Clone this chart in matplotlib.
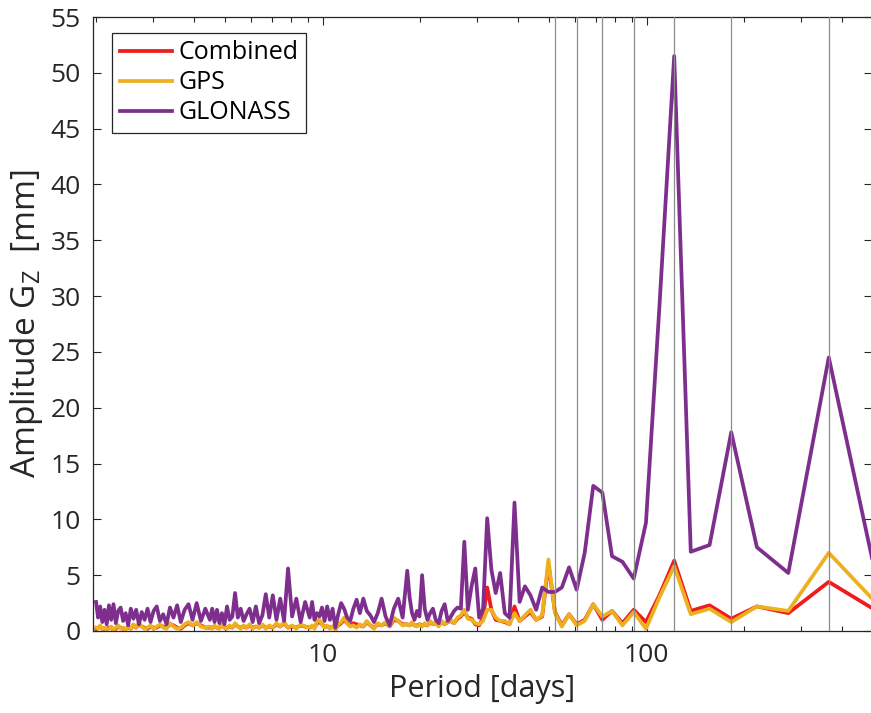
import matplotlib.pyplot as plt
import numpy as np
from matplotlib.ticker import LogLocator, NullFormatter

plt.rcParams['font.family'] = ['Open Sans', 'DejaVu Sans']
plt.rcParams['mathtext.fontset'] = 'custom'
plt.rcParams['mathtext.rm'] = 'Open Sans'
plt.rcParams['mathtext.it'] = 'Open Sans:italic'

# spectrum of a 3-year series: period = span / k
span_days = 1095.75
k = np.r_[548:250:-8, 244:120:-4, 120:60:-2, 60:1:-1]
period = span_days / k

# amplitudes [mm], ordered by increasing period
glonass = [
    2.6, 1.2, 2.2, 0.8, 1.9, 0.6, 2.3, 1.0, 2.4, 0.7, 1.8, 2.1, 0.9, 1.6, 0.5, 2.0, 1.1, 1.9, 0.6, 1.7,
    1.0, 2.0, 0.8, 1.8, 2.2, 0.9, 1.5, 0.6, 2.1, 1.2, 2.3, 0.8, 1.9, 2.4, 1.0, 2.5, 0.9, 2.0,
    1.0, 2.0, 0.8, 1.9, 0.7, 1.6, 0.6, 2.2, 1.0, 1.3, 3.4, 1.2, 2.0, 0.9, 1.5, 2.0, 0.8, 2.2, 0.7, 1.4,
    3.3, 1.2, 3.2, 1.0, 2.9, 0.9, 5.6, 1.3, 2.9, 0.8, 2.6,
    1.2, 2.6, 1.0, 1.6, 1.3, 2.1, 0.9, 2.2, 1.0, 2.0, 0.3, 1.5, 2.5, 2.0, 1.2, 0.9, 2.0, 2.8, 1.6, 2.9,
    1.8, 1.4, 0.8, 1.6, 2.9, 1.3, 0.5, 2.0, 2.9, 1.2,
    5.4, 3.0, 1.6, 1.0, 1.8, 1.3, 5.0, 2.0, 1.0, 1.6, 2.0, 1.0, 0.7, 1.8, 2.4, 0.9, 1.3, 1.8, 2.1, 2.0,
    8.0, 1.9, 4.0, 5.6, 1.2, 2.0, 10.1, 5.5, 3.4, 5.2, 1.6, 1.2, 11.5, 2.6, 4.0, 3.2, 1.9, 3.9, 3.5, 3.5,
    3.9, 5.7, 3.7, 7.0, 13.0, 12.4, 6.7, 6.2, 4.7, 9.7, 29.0, 51.5, 7.1, 7.7, 17.8, 7.5, 5.2, 24.5, 0.8,
]
gps = [
    0.3, 0.2, 0.5, 0.2, 0.3, 0.1, 0.2, 0.4, 0.1, 0.3, 0.5, 0.2, 0.3, 0.1, 0.4, 0.2, 0.6, 0.3, 0.7, 0.4,
    0.2, 0.3, 0.5, 0.2, 0.4, 0.6, 0.3, 0.2, 0.7, 0.4, 0.2, 0.3, 0.6, 0.8, 0.5, 0.8, 0.4, 0.3,
    0.4, 0.2, 0.5, 0.3, 0.2, 0.6, 0.3, 0.2, 0.5, 0.3, 0.7, 0.4, 0.2, 0.5, 0.3, 0.6, 0.2, 0.4, 0.3, 0.6,
    0.2, 0.5, 0.3, 0.7, 0.4, 0.8, 0.3, 0.5, 0.2, 0.6, 0.4,
    0.3, 0.5, 0.2, 0.9, 1.0, 0.6, 0.3, 0.5, 0.2, 0.4, 0.1, 0.6, 0.8, 1.2, 0.7, 0.4, 0.5, 0.3, 0.6, 0.4,
    0.9, 0.5, 0.2, 0.7, 0.5, 0.8, 0.4, 1.2, 0.9, 0.5,
    0.6, 0.5, 0.8, 0.5, 0.4, 0.6, 0.4, 0.7, 0.5, 0.9, 0.6, 0.8, 0.4, 0.9, 0.6, 0.8, 1.0, 0.7, 1.2, 1.4,
    1.9, 1.1, 1.0, 0.7, 0.6, 0.9, 1.9, 1.9, 1.2, 0.9, 0.9, 0.6, 1.6, 0.9, 1.4, 1.9, 1.0, 1.4, 6.4, 1.6,
    0.4, 1.5, 0.5, 0.9, 2.4, 1.3, 1.8, 0.5, 1.7, 0.2, 3.0, 5.8, 1.5, 2.0, 0.8, 2.2, 1.8, 7.0, 1.6,
]
combined = [
    0.2, 0.3, 0.4, 0.2, 0.2, 0.2, 0.3, 0.3, 0.1, 0.2, 0.4, 0.3, 0.2, 0.2, 0.3, 0.2, 0.5, 0.3, 0.6, 0.4,
    0.3, 0.2, 0.4, 0.3, 0.3, 0.5, 0.4, 0.3, 0.6, 0.5, 0.3, 0.2, 0.5, 0.7, 0.5, 0.7, 0.5, 0.3,
    0.3, 0.3, 0.4, 0.3, 0.3, 0.5, 0.3, 0.3, 0.4, 0.3, 0.6, 0.4, 0.3, 0.4, 0.3, 0.5, 0.3, 0.4, 0.3, 0.5,
    0.3, 0.4, 0.3, 0.6, 0.4, 0.7, 0.3, 0.4, 0.3, 0.5, 0.4,
    0.3, 0.4, 0.3, 0.7, 0.8, 0.6, 0.4, 0.4, 0.3, 0.4, 0.2, 0.5, 0.7, 1.0, 0.7, 0.5, 0.7, 0.6, 0.5, 0.4,
    0.8, 0.5, 0.3, 0.6, 0.5, 0.7, 0.4, 1.0, 0.9, 0.6,
    0.6, 0.5, 0.7, 0.5, 0.5, 0.6, 0.5, 0.6, 0.5, 0.8, 0.6, 0.7, 0.5, 0.8, 0.6, 0.8, 0.9, 0.7, 1.1, 1.3,
    1.7, 1.2, 1.1, 0.6, 0.5, 1.2, 3.9, 1.9, 1.0, 0.9, 0.8, 0.6, 2.2, 0.9, 1.3, 1.7, 1.0, 1.3, 6.0, 1.7,
    0.5, 1.5, 0.6, 1.0, 2.4, 1.0, 1.8, 0.7, 1.9, 0.8, 3.2, 6.3, 1.8, 2.3, 1.1, 2.2, 1.6, 4.4, 1.3,
]

# harmonics of one year (days)
harmonics = [365.25, 182.6, 121.8, 91.3, 73.1, 60.9, 52.2]

fig = plt.figure(figsize=(8.71, 7.13), dpi=100)
ax = fig.add_axes([93 / 871, 82 / 713, 779 / 871, 614 / 713])

ax.plot(period, combined, color='#ee1c1c', lw=2.7, label='Combined')
ax.plot(period, gps, color='#edb120', lw=2.7, label='GPS')
ax.plot(period, glonass, color='#7e2f8e', lw=2.7, label='GLONASS')
for p in harmonics:
    ax.axvline(p, color='#8c8c8c', lw=0.9, zorder=4)

ax.set_xscale('log')
ax.set_xlim(1.957, 496.6)
ax.set_ylim(0, 55)
ax.set_xticks([10, 100])
ax.set_xticklabels(['10', '100'])
ax.xaxis.set_minor_locator(LogLocator(base=10, subs=np.arange(2, 10)))
ax.xaxis.set_minor_formatter(NullFormatter())
ax.set_yticks(range(0, 56, 5))

ax.tick_params(which='major', direction='in', top=True, right=True, labelsize=19,
               length=6, width=0.8, colors='#262626', pad=9)
ax.tick_params(which='minor', direction='in', top=True, length=3.5, width=0.8, colors='#262626')
for s in ax.spines.values():
    s.set_color('#262626')
    s.set_linewidth(0.9)

ax.set_xlabel('Period [days]', fontsize=22, color='#262626', labelpad=4)
ax.set_ylabel('Amplitude G$_{\\mathrm{Z}}$  [mm]', fontsize=24, color='#262626', labelpad=4)

leg = ax.legend(loc='upper left', bbox_to_anchor=(0.0244, 0.974), borderaxespad=0,
                fontsize=18, fancybox=False, edgecolor='#262626', framealpha=1,
                handlelength=2.1, handletextpad=0.25, labelspacing=0.2, borderpad=0.3)
leg.get_frame().set_linewidth(0.9)

fig.savefig('out.png', dpi=100)
